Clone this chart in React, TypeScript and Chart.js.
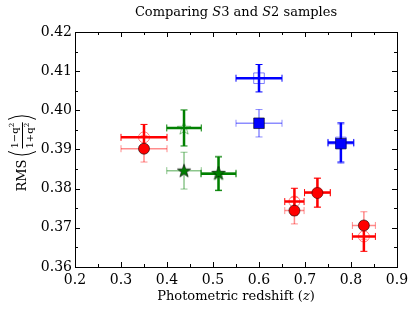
import React, { useEffect, useRef } from "react";
import { Chart, registerables } from "chart.js";
Chart.register(...registerables);

// ---- data ----
const xMin = 0.2, xMax = 0.9, xStep = 0.1;
const yMin = 0.36, yMax = 0.42, yStep = 0.01;

const redX = [0.35, 0.677, 0.727, 0.828];
const redXErr = [0.05, 0.021, 0.028, 0.025];
const redYOpen = [0.3931, 0.3767, 0.379, 0.3678];
const redYErrOpen = [0.0033, 0.0034, 0.0037, 0.0038];
const redYFilled = [0.3902, 0.3744, 0.3789, 0.3706];
const redYErrFilled = [0.0034, 0.0034, 0.0037, 0.0035];

const greenX = [0.437, 0.512];
const greenXErr = [0.0375, 0.038];
const greenYOpen = [0.3955, 0.3838];
const greenYErrOpen = [0.0046, 0.0043];
const greenYFilled = [0.3846, 0.384];
const greenYErrFilled = [0.0047, 0.0043];

const blueX = [0.6, 0.778];
const blueXErr = [0.05, 0.028];
const blueYOpen = [0.4082, 0.3918];
const blueYErrOpen = [0.0035, 0.005];
const blueYFilled = [0.3967, 0.3915];
const blueYErrFilled = [0.0035, 0.005];

const RED = "255,0,0";
const GREEN = "0,128,0";
const BLUE = "0,0,255";
const SERIF = "'DejaVu Serif', serif";

function pts(xs: number[], ys: number[], xe: number[], ye: number[]) {
  return xs.map((x, i) => ({ x, y: ys[i], xerr: xe[i], yerr: ye[i] }));
}

function makeStar(fill: string | null, stroke: string, R: number, lw: number) {
  const size = Math.ceil(2 * R + 2 * lw + 2);
  const c = document.createElement("canvas");
  c.width = size;
  c.height = size;
  const ctx = c.getContext("2d")!;
  const cx = size / 2, cy = size / 2 + 0.5;
  const r = R * 0.4;
  ctx.beginPath();
  for (let k = 0; k < 10; k++) {
    const a = -Math.PI / 2 + (k * Math.PI) / 5;
    const rr = k % 2 === 0 ? R : r;
    const px = cx + rr * Math.cos(a), py = cy + rr * Math.sin(a);
    if (k === 0) ctx.moveTo(px, py);
    else ctx.lineTo(px, py);
  }
  ctx.closePath();
  if (fill) {
    ctx.fillStyle = fill;
    ctx.fill();
  }
  ctx.lineWidth = lw;
  ctx.strokeStyle = stroke;
  ctx.stroke();
  return c;
}

const errorBarPlugin = {
  id: "errbars",
  beforeDatasetsDraw(chart: any) {
    const { ctx } = chart;
    const xs = chart.scales.x, ys = chart.scales.y;
    chart.data.datasets.forEach((ds: any) => {
      ctx.save();
      ctx.strokeStyle = ds.errColor;
      ds.data.forEach((p: any) => {
        const px = xs.getPixelForValue(p.x), py = ys.getPixelForValue(p.y);
        const x0 = xs.getPixelForValue(p.x - p.xerr), x1 = xs.getPixelForValue(p.x + p.xerr);
        const y0 = ys.getPixelForValue(p.y - p.yerr), y1 = ys.getPixelForValue(p.y + p.yerr);
        ctx.lineWidth = ds.errWidth;
        ctx.beginPath();
        ctx.moveTo(x0, py); ctx.lineTo(x1, py);
        ctx.moveTo(px, y0); ctx.lineTo(px, y1);
        ctx.stroke();
        ctx.lineWidth = 1;
        const c = 3.5;
        ctx.beginPath();
        ctx.moveTo(x0, py - c); ctx.lineTo(x0, py + c);
        ctx.moveTo(x1, py - c); ctx.lineTo(x1, py + c);
        ctx.moveTo(px - c, y0); ctx.lineTo(px + c, y0);
        ctx.moveTo(px - c, y1); ctx.lineTo(px + c, y1);
        ctx.stroke();
      });
      ctx.restore();
    });
  },
};

function drawParts(ctx: CanvasRenderingContext2D, parts: [string, string][], cx: number, y: number) {
  let total = 0;
  parts.forEach(([t, f]) => { ctx.font = f; total += ctx.measureText(t).width; });
  let x = cx - total / 2;
  ctx.textAlign = "left";
  parts.forEach(([t, f]) => { ctx.font = f; ctx.fillText(t, x, y); x += ctx.measureText(t).width; });
}

const framePlugin = {
  id: "frame",
  afterDraw(chart: any) {
    const { ctx, chartArea: a } = chart;
    const xs = chart.scales.x, ys = chart.scales.y;
    ctx.save();
    ctx.strokeStyle = "#000";
    ctx.lineWidth = 1;
    ctx.strokeRect(Math.round(a.left) + 0.5, Math.round(a.top) + 0.5, Math.round(a.right - a.left), Math.round(a.bottom - a.top));
    const major = 5, minor = 3;
    ctx.beginPath();
    const xt = xs.ticks.map((t: any) => t.value);
    xt.forEach((v: number, i: number) => {
      const px = Math.round(xs.getPixelForValue(v)) + 0.5;
      ctx.moveTo(px, a.bottom); ctx.lineTo(px, a.bottom - major);
      ctx.moveTo(px, a.top); ctx.lineTo(px, a.top + major);
      if (i < xt.length - 1) {
        const m = Math.round(xs.getPixelForValue((v + xt[i + 1]) / 2)) + 0.5;
        ctx.moveTo(m, a.bottom); ctx.lineTo(m, a.bottom - minor);
        ctx.moveTo(m, a.top); ctx.lineTo(m, a.top + minor);
      }
    });
    const yt = ys.ticks.map((t: any) => t.value);
    yt.forEach((v: number, i: number) => {
      const py = Math.round(ys.getPixelForValue(v)) + 0.5;
      ctx.moveTo(a.left, py); ctx.lineTo(a.left + major, py);
      ctx.moveTo(a.right, py); ctx.lineTo(a.right - major, py);
      if (i < yt.length - 1) {
        const m = Math.round(ys.getPixelForValue((v + yt[i + 1]) / 2)) + 0.5;
        ctx.moveTo(a.left, m); ctx.lineTo(a.left + minor, m);
        ctx.moveTo(a.right, m); ctx.lineTo(a.right - minor, m);
      }
    });
    ctx.stroke();

    ctx.fillStyle = "#000";
    ctx.textBaseline = "alphabetic";
    const cx = (a.left + a.right) / 2;
    // title
    drawParts(ctx, [
      ["Comparing ", `13px ${SERIF}`],
      ["S", `italic 13px ${SERIF}`],
      ["3 and ", `13px ${SERIF}`],
      ["S", `italic 13px ${SERIF}`],
      ["2 samples", `13px ${SERIF}`],
    ], cx, 16);
    // x title
    drawParts(ctx, [
      ["Photometric redshift (", `13px ${SERIF}`],
      ["z", `italic 13px ${SERIF}`],
      [")", `13px ${SERIF}`],
    ], cx, 300);

    // y title (rotated)
    ctx.translate(22, (a.top + a.bottom) / 2);
    ctx.rotate(-Math.PI / 2);
    ctx.textAlign = "left";
    ctx.textBaseline = "middle";
    ctx.font = `13px ${SERIF}`;
    ctx.fillText("RMS", -42, 1);
    ctx.lineWidth = 1;
    ctx.strokeStyle = "#000";
    // left paren
    ctx.beginPath();
    ctx.moveTo(-2, -14); ctx.quadraticCurveTo(-9, 0, -2, 14);
    ctx.stroke();
    // fraction
    ctx.font = `10px ${SERIF}`;
    ctx.textAlign = "left";
    const num = "1\u2212q", den = "1+q";
    const nw = ctx.measureText(num).width, dw = ctx.measureText(den).width;
    const fx = 1;
    ctx.fillText(num, fx, -7);
    ctx.fillText(den, fx + (nw - dw) / 2, 8);
    ctx.font = `7px ${SERIF}`;
    ctx.fillText("2", fx + nw, -10);
    ctx.fillText("2", fx + (nw - dw) / 2 + dw, 5);
    const fw = nw + 5;
    ctx.beginPath();
    ctx.moveTo(fx, 0.5); ctx.lineTo(fx + fw, 0.5);
    ctx.stroke();
    // right paren
    ctx.beginPath();
    ctx.moveTo(fx + fw + 3, -14); ctx.quadraticCurveTo(fx + fw + 10, 0, fx + fw + 3, 14);
    ctx.stroke();
    ctx.restore();
  },
};

export default function App() {
  const ref = useRef<HTMLCanvasElement>(null);
  useEffect(() => {
    const greenStarFilled = makeStar("rgb(0,128,0)", "rgba(0,0,0,0.8)", 7, 0.8);
    const greenStarOpen = makeStar(null, "rgba(0,128,0,0.5)", 7, 1);
    const mk = (label: string, data: any[], rgb: string, open: boolean, style: any, radius: number) => ({
      label,
      data,
      showLine: false,
      pointStyle: style,
      pointRadius: radius,
      pointHoverRadius: radius,
      backgroundColor: open ? "rgba(0,0,0,0)" : `rgb(${rgb})`,
      borderColor: open ? `rgba(${rgb},0.5)` : "rgba(0,0,0,0.75)",
      borderWidth: open ? 1 : 0.8,
      errColor: open ? `rgb(${rgb})` : `rgba(${rgb},0.45)`,
      errWidth: open ? 2.5 : 1.5,
    });
    const chart = new Chart(ref.current!, {
      type: "scatter",
      data: {
        datasets: [
          mk("S3 red", pts(redX, redYOpen, redXErr, redYErrOpen), RED, true, "circle", 5.5),
          mk("S3 green", pts(greenX, greenYOpen, greenXErr, greenYErrOpen), GREEN, true, greenStarOpen, 7),
          mk("S3 blue", pts(blueX, blueYOpen, blueXErr, blueYErrOpen), BLUE, true, "rect", 7.5),
          mk("S2 red", pts(redX, redYFilled, redXErr, redYErrFilled), RED, false, "circle", 5.5),
          mk("S2 green", pts(greenX, greenYFilled, greenXErr, greenYErrFilled), GREEN, false, greenStarFilled, 7),
          mk("S2 blue", pts(blueX, blueYFilled, blueXErr, blueYErrFilled), BLUE, false, "rect", 7.5),
        ] as any,
      },
      options: {
        responsive: false,
        animation: false,
        events: [],
        layout: { padding: { top: 32, right: 18, left: 0, bottom: 0 } },
        plugins: { legend: { display: false }, tooltip: { enabled: false }, title: { display: false } },
        scales: {
          x: {
            type: "linear",
            min: xMin,
            max: xMax,
            grid: { display: false, drawTicks: false },
            border: { display: false },
            ticks: {
              stepSize: xStep,
              padding: 5,
              color: "#000",
              font: { family: SERIF, size: 14 },
              callback: (v: any) => Number(v).toFixed(1),
            },
            afterFit: (s: any) => { s.height = 45; },
          },
          y: {
            type: "linear",
            min: yMin,
            max: yMax,
            grid: { display: false, drawTicks: false },
            border: { display: false },
            ticks: {
              stepSize: yStep,
              padding: 3,
              color: "#000",
              font: { family: SERIF, size: 14 },
              callback: (v: any) => Number(v).toFixed(2),
            },
            afterFit: (s: any) => { s.width = 75; },
          },
        },
      },
      plugins: [errorBarPlugin, framePlugin],
    } as any);
    return () => chart.destroy();
  }, []);
  return (
    <canvas
      ref={ref}
      width={415}
      height={312}
      style={{ position: "absolute", left: 0, top: 0, width: 415, height: 312 }}
    />
  );
}
